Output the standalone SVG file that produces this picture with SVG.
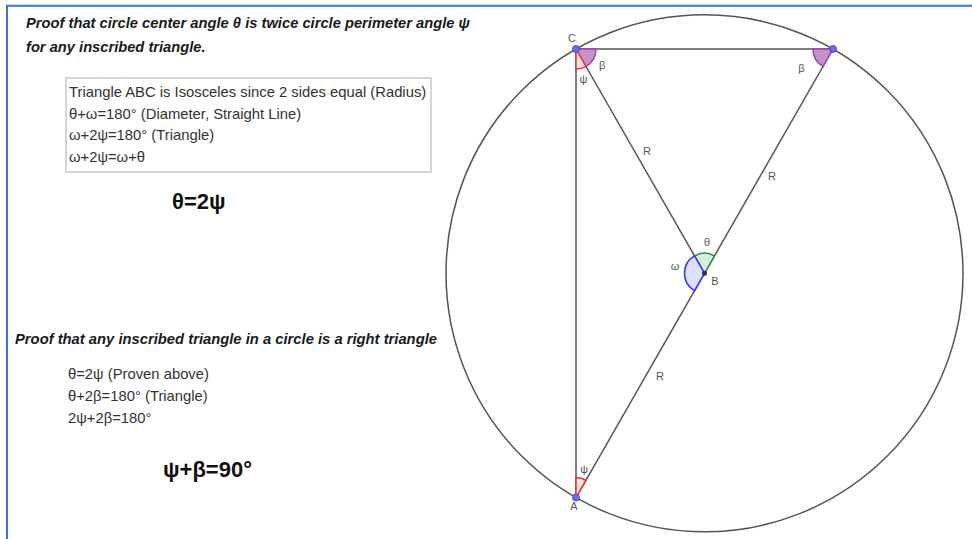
<svg xmlns="http://www.w3.org/2000/svg" width="972" height="539" viewBox="0 0 972 539">
<style>
  .title{font-family:"Liberation Sans",Arial,sans-serif;font-size:14.7px;font-weight:bold;font-style:italic;fill:#1a1a1a}
  .body{font-family:"Liberation Sans",Arial,sans-serif;font-size:14.8px;fill:#333}
  .result{font-family:"Liberation Sans",Arial,sans-serif;font-size:22px;font-weight:bold;fill:#111}
  .lbl{font-family:"Liberation Sans",Arial,sans-serif;font-size:11px;fill:#555;text-anchor:middle}
  .seg{stroke:#555;stroke-width:1.5;fill:none}
  .pt{fill:#6b6bf5;stroke:#3c3ccc;stroke-width:0.8}
  .beta{fill:#c792cc;stroke:#a040b0;stroke-width:1.5}
  .psi{fill:#ffe2e2;stroke:#f03030;stroke-width:1.5}
  .theta{fill:#dcecdc;stroke:#2e8b4a;stroke-width:1.5}
  .omega{fill:#dedeff;stroke:#3030ff;stroke-width:1.5}
</style>
<rect width="972" height="539" fill="#fff"/>
<g id="frame"><path d="M7,539 V5.7 H972" fill="none" stroke="#4472c4" stroke-width="2"/></g>

<g id="title1">
  <text class="title" x="26" y="27.5" textLength="444" lengthAdjust="spacingAndGlyphs">Proof that circle center angle θ is twice circle perimeter angle ψ</text>
  <text class="title" x="26" y="51.5">for any inscribed triangle.</text>
</g>

<g id="proof1-box">
  <rect x="66" y="78" width="365" height="94" fill="#fff" stroke="#c8c8c8" stroke-width="1.5"/>
  <text class="body" x="69" y="97">Triangle ABC is Isosceles since 2 sides equal (Radius)</text>
  <text class="body" x="69" y="118.5">θ+ω=180° (Diameter, Straight Line)</text>
  <text class="body" x="69" y="140">ω+2ψ=180° (Triangle)</text>
  <text class="body" x="69" y="161.5">ω+2ψ=ω+θ</text>
</g>

<g id="result1"><text class="result" x="172" y="209">θ=2ψ</text></g>

<g id="title2"><text class="title" x="15" y="343.5" textLength="422" lengthAdjust="spacingAndGlyphs">Proof that any inscribed triangle in a circle is a right triangle</text></g>

<g id="proof2">
  <text class="body" x="68" y="379">θ=2ψ (Proven above)</text>
  <text class="body" x="68" y="401">θ+2β=180° (Triangle)</text>
  <text class="body" x="68" y="423">2ψ+2β=180°</text>
</g>

<g id="result2"><text class="result" x="163" y="477">ψ+β=90°</text></g>

<g id="circle"><circle cx="704.5" cy="273.3" r="258.5" class="seg"/></g>

<g id="connectors">
  <line class="seg" x1="576" y1="49" x2="833" y2="49"/>
  <line class="seg" x1="576" y1="49" x2="576" y2="497.6"/>
  <line class="seg" x1="576" y1="49" x2="704.5" y2="273.3"/>
  <line class="seg" x1="833" y1="49" x2="576" y2="497.6"/>
</g>

<g id="angles">
  <path class="beta" d="M576,49 L596,49 A20,20 0 0 1 585.94,66.36 Z"/>
  <path class="psi" d="M576,49 L585.94,66.36 A20,20 0 0 1 576,69 Z"/>
  <path class="beta" d="M833,49 L823.06,66.36 A20,20 0 0 1 813,49 Z"/>
  <path class="theta" d="M704.5,273.3 L694.56,255.94 A20,20 0 0 1 714.44,255.94 Z"/>
  <path class="omega" d="M704.5,273.3 L694.56,290.66 A20,20 0 0 1 694.56,255.94 Z"/>
  <path class="psi" d="M576,497.6 L576,477.6 A20,20 0 0 1 585.94,480.24 Z"/>
</g>

<g id="point-C"><circle class="pt" cx="576" cy="49" r="3.5"/><text class="lbl" x="572" y="41.8">C</text></g>
<g id="point-D"><circle class="pt" cx="833" cy="49" r="3.5"/></g>
<g id="point-A"><circle class="pt" cx="576" cy="497.6" r="3.5"/><text class="lbl" x="574" y="509.7">A</text></g>
<g id="point-B"><circle cx="704.5" cy="273.3" r="2.5" fill="#333"/><text class="lbl" x="715" y="285.4">B</text></g>

<g id="labels">
  <text class="lbl" x="602.2" y="68.5">β</text>
  <text class="lbl" x="583.5" y="83">ψ</text>
  <text class="lbl" x="801.4" y="72">β</text>
  <text class="lbl" x="647" y="154.7">R</text>
  <text class="lbl" x="772" y="180">R</text>
  <text class="lbl" x="707" y="245.8">θ</text>
  <text class="lbl" x="675" y="270">ω</text>
  <text class="lbl" x="660" y="380">R</text>
  <text class="lbl" x="584.2" y="473">ψ</text>
</g>
</svg>
